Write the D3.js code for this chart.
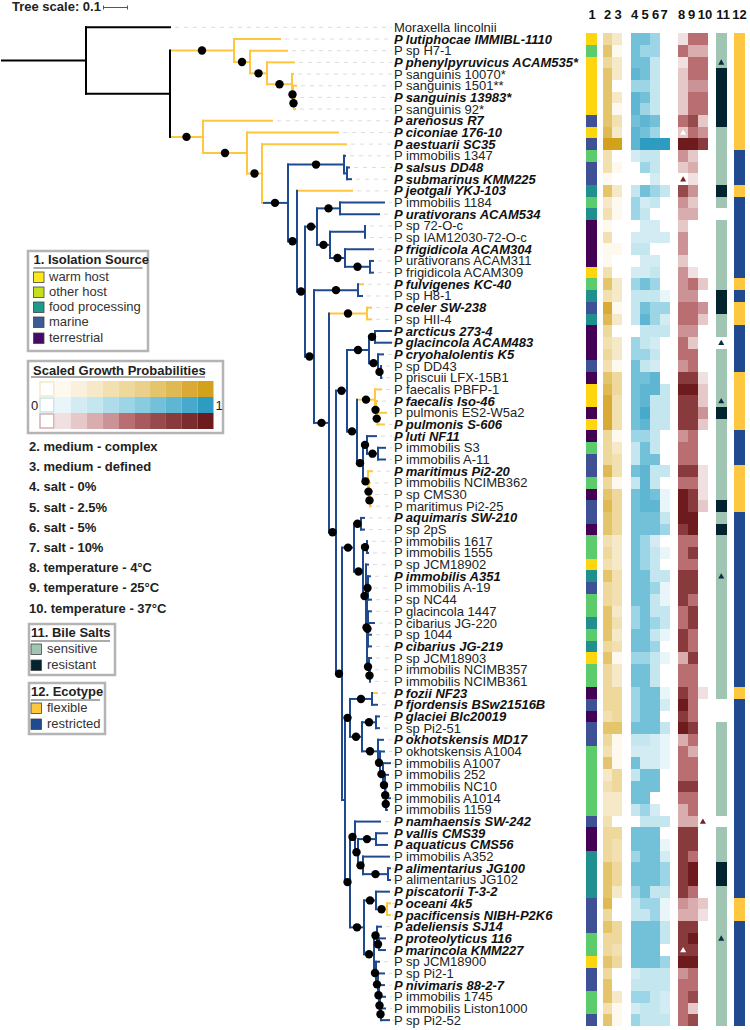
<!DOCTYPE html>
<html><head><meta charset="utf-8">
<script src="https://cdn.jsdelivr.net/npm/d3@7"></script>
<style>html,body{margin:0;padding:0;background:#fff}svg{display:block}text{font-family:"Liberation Sans",Arial,sans-serif}</style>
</head><body><div id="chart"></div>
<script>
// ---------- DATA ----------
const tipLabels = ["Moraxella lincolnii","P lutiphocae IMMIBL-1110","P sp H7-1","P phenylpyruvicus ACAM535*","P sanguinis 10070*","P sanguinis 1501**","P sanguinis 13983*","P sanguinis 92*","P arenosus R7","P ciconiae 176-10","P aestuarii SC35","P immobilis 1347","P salsus DD48","P submarinus KMM225","P jeotgali YKJ-103","P immobilis 1184","P urativorans ACAM534","P sp 72-O-c","P sp IAM12030-72-O-c","P frigidicola ACAM304","P urativorans ACAM311","P frigidicola ACAM309","P fulvigenes KC-40","P sp H8-1","P celer SW-238","P sp HII-4","P arcticus 273-4","P glacincola ACAM483","P cryohalolentis K5","P sp DD43","P priscuii LFX-15B1","P faecalis PBFP-1","P faecalis Iso-46","P pulmonis ES2-W5a2","P pulmonis S-606","P luti NF11","P immobilis S3","P immobilis A-11","P maritimus Pi2-20","P immobilis NCIMB362","P sp CMS30","P maritimus Pi2-25","P aquimaris SW-210","P sp 2pS","P immobilis 1617","P immobilis 1555","P sp JCM18902","P immobilis A351","P immobilis A-19","P sp NC44","P glacincola 1447","P cibarius JG-220","P sp 1044","P cibarius JG-219","P sp JCM18903","P immobilis NCIMB357","P immobilis NCIMB361","P fozii NF23","P fjordensis BSw21516B","P glaciei Blc20019","P sp Pi2-51","P okhotskensis MD17","P okhotskensis A1004","P immobilis A1007","P immobilis 252","P immobilis NC10","P immobilis A1014","P immobilis 1159","P namhaensis SW-242","P vallis CMS39","P aquaticus CMS56","P immobilis A352","P alimentarius JG100","P alimentarius JG102","P piscatorii T-3-2","P oceani 4k5","P pacificensis NIBH-P2K6","P adeliensis SJ14","P proteolyticus 116","P marincola KMM227","P sp JCM18900","P sp Pi2-1","P nivimaris 88-2-7","P immobilis 1745","P immobilis Liston1000","P sp Pi2-52"];
const typeStrains = new Set(["P lutiphocae IMMIBL-1110","P phenylpyruvicus ACAM535*","P sanguinis 13983*","P arenosus R7","P ciconiae 176-10","P aestuarii SC35","P salsus DD48","P submarinus KMM225","P jeotgali YKJ-103","P urativorans ACAM534","P frigidicola ACAM304","P fulvigenes KC-40","P celer SW-238","P arcticus 273-4","P glacincola ACAM483","P cryohalolentis K5","P faecalis Iso-46","P pulmonis S-606","P luti NF11","P maritimus Pi2-20","P aquimaris SW-210","P immobilis A351","P cibarius JG-219","P fozii NF23","P fjordensis BSw21516B","P glaciei Blc20019","P okhotskensis MD17","P namhaensis SW-242","P vallis CMS39","P aquaticus CMS56","P alimentarius JG100","P piscatorii T-3-2","P oceani 4k5","P pacificensis NIBH-P2K6","P adeliensis SJ14","P proteolyticus 116","P marincola KMM227","P nivimaris 88-2-7"]);

// Isolation source per heatmap row: W warm host, G other host, F food processing, M marine, T terrestrial
const isolation = "WGWWWWWMWMGMMFGFTTTTWGFMFTTTMTWWTWTGMMGTMMTGGWFMGGFGFWGGTMTMMGGGGGGMTTFFFFMMMGGWMMGGM".split("");
// Bile salts: S sensitive, R resistant, N no data
const bile = "SSSRRRRRSSSSSRSNSSSSSSRRSSNSSSSSRSSSSSSSRSRSSSSSSSSSSSSSSNNSSSSSSSSNSSSRRSSSSSSSSSSSS".split("");
// Ecotype: F flexible, R restricted
const ecotype = "FFFFFFFFFFRRRFRRRRRRRFRFFRRRRFFFFFRRRFFFFRRRRRRRRRRRRRRRFRRRRRRRRRRRRRRRRRFFRRRRRRRRR".split("");

const mediumComplex = [4,5,4,5,5,5,5,5,6,8, 3,3,1,5,2,3,1,3,1,1, 3,5,3,7,6,4,3,4,3,5, 6,7,7,7,4,4,4,6,4,5, 6,5,5,3,4,3,5,4,4,5, 5,5,4,5,4,4,4,4,3,5, 4,3,5,2,3,2,2,3,4,4, 4,5,5,5,6,4,5,4,4,5, 4,5,5,3,5];
const mediumDefined = [2,1,2,2,0,2,1,3,2,9, 0,1,0,2,1,1,0,0,1,0, 0,2,2,1,2,0,2,2,1,4, 4,3,3,3,1,2,3,3,1,4, 4,4,4,2,2,2,3,3,3,2, 3,2,3,1,2,2,4,4,4,5, 1,1,1,4,4,2,2,0,4,3, 3,4,4,2,0,0,4,4,3,4, 0,0,2,1,1];
const salt0 = [5,5,5,6,4,6,6,5,6,6, 2,0,0,3,4,4,0,2,3,0, 2,4,3,3,3,0,4,4,5,5, 5,5,5,5,4,3,3,5,3,5, 5,5,5,5,5,5,5,5,5,4, 4,5,5,4,5,5,4,4,4,5, 3,2,5,3,5,5,3,0,5,5, 4,5,5,4,3,3,5,5,5,5, 2,3,4,2,4];
const salt25 = [5,4,5,5,4,5,4,6,5,8, 3,4,0,5,2,3,2,2,3,2, 2,5,3,5,6,3,3,4,3,5, 6,6,7,6,4,5,5,6,6,6, 6,5,5,4,4,4,5,5,5,5, 5,5,5,4,5,5,5,5,5,5, 3,2,2,5,5,5,4,3,5,5, 5,5,5,5,4,3,5,5,5,5, 3,3,4,3,3];
const salt5 = [4,4,3,3,3,3,3,5,4,8, 3,3,2,4,3,0,2,2,0,2, 3,4,3,4,4,3,2,3,2,6, 6,3,3,3,3,3,5,3,3,5, 6,5,5,2,3,3,3,4,3,3, 4,3,4,3,3,3,5,5,5,5, 2,2,2,5,5,0,2,3,5,5, 5,5,5,3,4,4,5,5,5,5, 3,3,3,3,3];
const salt10 = [0,0,0,0,0,0,0,0,0,8, 0,0,0,3,0,0,0,2,0,0, 0,0,1,4,2,3,0,0,0,0, 3,3,3,3,0,0,0,3,0,1, 1,3,4,0,1,0,3,1,1,3, 3,1,0,1,0,0,1,2,0,3, 1,1,1,0,0,0,0,3,0,1, 2,4,4,3,1,1,3,3,0,4, 3,3,2,2,3];
const temp4 = [2,6,1,3,3,3,3,6,3,9, 5,3,0,7,5,4,3,5,5,3, 5,5,5,6,6,5,6,6,5,8, 9,8,8,8,5,6,6,8,6,9, 9,9,8,6,6,6,8,8,8,6, 6,8,8,4,6,6,8,9,8,9, 4,6,6,6,8,6,4,4,8,8, 8,8,8,8,5,4,8,8,8,9, 5,6,6,6,6];
const temp25 = [6,4,6,6,5,6,6,7,6,9, 3,4,2,5,3,4,0,0,0,0, 2,6,5,6,6,5,3,6,6,8, 9,8,8,8,6,6,6,8,6,8, 8,9,9,6,8,6,8,8,6,8, 8,6,6,8,6,6,6,6,6,8, 6,4,6,6,8,6,6,4,8,8, 6,9,9,6,4,4,8,9,8,9, 6,6,7,3,7];
const temp37 = [6,4,6,6,5,6,6,3,5,8, 0,0,0,0,0,0,0,0,0,0, 0,3,0,5,3,0,0,0,0,2, 3,3,5,3,0,0,0,1,1,1, 3,0,0,0,0,0,0,0,0,0, 0,0,0,0,0,0,1,0,0,0, 0,0,0,0,0,0,0,0,0,0, 0,0,0,0,3,2,0,0,0,0, 0,0,0,0,0];

// Triangle markers: [heatmap row (1-based), track number, colour]
const triangles = [[3,11,"#08303f"],[9,8,"#ffffff"],[13,8,"#7a2022"],[27,11,"#08303f"],[32,11,"#08303f"],[47,11,"#08303f"],[68,10,"#7a2022"],[78,11,"#08303f"],[79,8,"#ffffff"]];

// Ramps from the legend (0 = white .. 10 = darkest) and the read shade levels' place on them
const goldRamp = ["#ffffff","#fdf9ee","#f9f1dd","#f6e9c8","#f2e0b1","#eed89c","#ead08a","#e4c56c","#dfb954","#d9ab36","#d3a21c"];
const blueRamp = ["#ffffff","#e8f5f9","#d3ecf3","#c3e6ef","#afdcea","#9cd5e6","#8accdf","#73c1d9","#5fb6d3","#47a9cb","#2e9cc0"];
const redRamp  = ["#ffffff","#f0e0e1","#e6c8c9","#d9adae","#cb9395","#b96f72","#a95a5c","#974a4c","#883a3c","#7a2d2f","#6d1b1d"];
const goldStep = [0,1,3,4,5,7,8,9,10,10];
const blueStep = [0,1,2,3,5,7,8,9,10,10];
const redStep  = [0,1,1,2,3,4,5,7,8,10];

const trackTitles = ["1","2","3","4","5","6","7","8","9","10","11","12"];
const conditionNames = ["2. medium - complex","3. medium - defined","4. salt - 0%","5. salt - 2.5%","6. salt - 5%","7. salt - 10%","8. temperature - 4°C","9. temperature - 25°C","10. temperature - 37°C"];
const sourceNames = ["warm host","other host","food processing","marine","terrestrial"];
const bileNames = ["sensitive","resistant"];
const ecotypeNames = ["flexible","restricted"];

// Tree topology with tip order matching tipLabels. Node depth is in units of 1/240 substitutions per site.
// c: k black, o flexible, b restricted. s: 1 = supported branch.
const N = (d, c, s, ...children) => ({d, c, s, children});
const L = (d, c = "b") => ({d, c, s: 0});
const O = d => L(d, "o");
const treeData = N(86,"k",0,
  L(171,"k"),
  N(170,"k",0,
    N(234,"o",1, O(281),
      N(250,"o",1, O(288),
        N(267,"o",1, O(295),
          N(292,"o",1, O(294),
            N(293,"o",1, O(297),
              N(294,"o",1, O(296), O(296))))))),
    N(203,"o",1, O(273),
      N(247,"o",1, O(339),
        N(262,"o",1, O(347),
          N(288,"b",1,
            N(344,"b",1, L(346), N(347,"b",0, L(350), L(352))),
            N(297,"b",1, O(353),
              N(305,"b",1,
                N(317,"b",1,
                  N(340,"b",1, L(385), L(380)),
                  N(330,"b",1,
                    N(365,"b",0, L(366), L(366)),
                    N(345,"b",1, L(374), N(370,"b",1, L(374), L(374))))),
                N(314,"b",1,
                  N(358,"b",1, O(364), L(363)),
                  N(329,"b",1,
                    N(367,"o",1, O(372), O(372)),
                    N(336,"b",1,
                      N(347,"b",1,
                        N(369,"b",1,
                          N(375,"b",1, L(392), L(392)),
                          N(378,"b",1, L(384), N(381,"b",1, L(382), L(382.5)))),
                        N(357,"b",1,
                          N(375,"o",1, O(382), N(376,"o",1, O(378), N(377.5,"o",1, O(387), O(385)))),
                          N(363,"b",1,
                            N(367,"b",1, L(377), N(378,"b",1, L(386), L(386))),
                            N(368,"o",1, O(373), N(369,"o",1, O(371), N(370,"o",1, O(371), O(372))))))),
                      N(342,"b",1,
                        N(354,"b",1,
                          N(361,"b",1, L(365), L(365)),
                          N(363,"b",1,
                            N(367,"b",1, L(368), L(369)),
                            N(366,"b",1, L(369),
                              N(367,"b",1,
                                N(368,"b",1, L(371), L(370), L(372)),
                                N(368,"b",1, L(372), L(375), L(372), L(372)),
                                N(369,"b",1, L(372), N(370,"b",1, L(371), L(371))))))),
                        N(345,"b",0,
                          N(350,"b",1,
                            N(372,"b",1, O(378), L(378)),
                            N(362,"b",1,
                              N(376,"b",1, L(380), L(380)),
                              N(378,"b",1, L(384),
                                N(380,"b",1, L(385),
                                  N(383,"b",1, L(391),
                                    N(385,"b",1, L(389),
                                      N(385.5,"b",1, L(388),
                                        N(386,"b",1, L(391), L(388)))))))) ),
                          N(350,"b",1,
                            N(355,"b",1, L(381),
                              N(358,"b",1,
                                N(376,"b",1, L(388), L(388)),
                                N(363,"b",1, L(390), N(388,"b",1, L(391), L(391))))),
                            N(364,"b",1,
                              N(376,"b",1, L(390), N(387,"o",1, O(391), O(391))),
                              N(374,"b",1,
                                N(377,"b",1, L(382), N(379,"b",1, L(386), L(386))),
                                N(376,"b",1, L(380),
                                  N(378,"b",1, L(385),
                                    N(379,"b",1, L(385),
                                      N(380,"b",1, L(386),
                                        N(381,"b",1, L(386), L(390)))))))))))))))))))))
);

// ---------- DRAW ----------
const W = 750, H = 1030;
const svg = d3.select("#chart").append("svg").attr("width", W).attr("height", H);
const branchColor = {k:"#000000", o:"#ffc640", b:"#1f4a8f"};
const sourceColor = {W:"#fdd60f", G:"#5bcb6b", F:"#218f8d", M:"#3f5195", T:"#440255"};
const bileColor = {S:"#a0c5b2", R:"#03232f", N:"#ffffff"};
const ecoColor = {F:"#ffc640", R:"#1f4a8f"};

const rowY = d3.scaleBand().domain(tipLabels).range([21.5, 21.5 + 86 * 11.68]);
const yc = name => rowY(name) + rowY.bandwidth() / 2;
const treeX = d3.scaleLinear().domain([0, 400]).range([0, 400]);

// tree layout
const root = d3.hierarchy(treeData);
root.leaves().forEach((leaf, i) => { leaf.label = tipLabels[i]; leaf.y = yc(leaf.label); });
root.eachAfter(n => { if (n.children) n.y = (n.children[0].y + n.children[n.children.length - 1].y) / 2; });

const gTree = svg.append("g");
// leader lines
gTree.selectAll("line.lead").data(root.leaves()).join("line")
  .attr("x1", d => treeX(d.data.d) + 4).attr("x2", 392)
  .attr("y1", d => d.y).attr("y2", d => d.y)
  .attr("stroke", "#dcdcdc").attr("stroke-width", 1).attr("stroke-dasharray", "4 5");
// horizontal branches
const nodes = root.descendants();
gTree.selectAll("line.h").data(nodes).join("line")
  .attr("x1", d => d.parent ? treeX(d.parent.data.d) - 1 : treeX(1)).attr("x2", d => treeX(d.data.d))
  .attr("y1", d => d.y).attr("y2", d => d.y)
  .attr("stroke", d => branchColor[d.data.c]).attr("stroke-width", 2);
// vertical branches
gTree.selectAll("line.v").data(nodes.filter(d => d.children)).join("line")
  .attr("x1", d => treeX(d.data.d)).attr("x2", d => treeX(d.data.d))
  .attr("y1", d => d.children[0].y - 1).attr("y2", d => d.children[d.children.length - 1].y + 1)
  .attr("stroke", d => branchColor[d.data.c]).attr("stroke-width", 2);
// support dots
gTree.selectAll("circle").data(nodes.filter(d => d.data.s && d.parent)).join("circle")
  .attr("cx", d => (treeX(d.parent.data.d) + treeX(d.data.d)) / 2).attr("cy", d => d.y)
  .attr("r", 4.2).attr("fill", "#000");

// tip labels
svg.append("g").selectAll("text").data(tipLabels).join("text")
  .attr("x", 394).attr("y", d => yc(d) + 4.5)
  .attr("font-size", 13).attr("fill", d => typeStrains.has(d) ? "#111" : "#222")
  .attr("font-weight", d => typeStrains.has(d) ? "bold" : "normal")
  .attr("font-style", d => typeStrains.has(d) ? "italic" : "normal")
  .text(d => d);

// heat tracks
const heatRows = tipLabels.slice(1);
const trackX = {1:[586,596.5],2:[602.5,612],3:[612,622],4:[630.5,640.3],5:[640.3,650],6:[650,659.8],7:[659.8,670],8:[678.3,688],9:[688,697.8],10:[697.8,708],11:[716,726.5],12:[734,745]};
const level = (ramp, step) => v => ramp[step[v]];
const tracks = [
  [1, isolation, v => sourceColor[v]],
  [2, mediumComplex, level(goldRamp, goldStep)],
  [3, mediumDefined, level(goldRamp, goldStep)],
  [4, salt0, level(blueRamp, blueStep)],
  [5, salt25, level(blueRamp, blueStep)],
  [6, salt5, level(blueRamp, blueStep)],
  [7, salt10, level(blueRamp, blueStep)],
  [8, temp4, level(redRamp, redStep)],
  [9, temp25, level(redRamp, redStep)],
  [10, temp37, level(redRamp, redStep)],
  [11, bile, v => bileColor[v]],
  [12, ecotype, v => ecoColor[v]]
];
tracks.forEach(([id, values, color]) => {
  const [x0, x1] = trackX[id];
  svg.append("g").attr("shape-rendering", "crispEdges").selectAll("rect").data(values).join("rect")
    .attr("x", x0).attr("width", x1 - x0)
    .attr("y", (d, i) => rowY(heatRows[i]))
    .attr("height", rowY.bandwidth() + 0.3)
    .attr("fill", d => color(d));
});
svg.append("g").selectAll("path").data(triangles).join("path")
  .attr("d", d3.symbol(d3.symbolTriangle, 16))
  .attr("transform", d => `translate(${(trackX[d[1]][0] + trackX[d[1]][1]) / 2},${yc(heatRows[d[0] - 1]) + 0.5})`)
  .attr("fill", d => d[2]);

// column headers
const headerX = {1:592,2:607.5,3:618,4:634.5,5:645,6:655.5,7:664,8:681.5,9:691.5,10:705,11:723,12:739.5};
svg.append("g").selectAll("text").data(trackTitles).join("text")
  .attr("x", d => headerX[d]).attr("y", 18.5).attr("text-anchor", "middle")
  .attr("font-size", 13).attr("font-weight", "bold").attr("fill", "#111").text(d => d);

// tree scale
svg.append("text").attr("x", 12).attr("y", 11).attr("font-size", 13).attr("font-weight", "bold").attr("fill", "#222").text("Tree scale: 0.1");
const sg = svg.append("g").attr("stroke", "#555").attr("stroke-width", 1);
const barLen = treeX(24) - treeX(0);
sg.append("line").attr("x1", 103.5).attr("x2", 103.5 + barLen).attr("y1", 7.5).attr("y2", 7.5);
[103.5, 103.5 + barLen].forEach(x => sg.append("line").attr("x1", x).attr("x2", x).attr("y1", 5.5).attr("y2", 9.5));

// legends
function box(x, y, w, h) {
  svg.append("rect").attr("x", x + 1).attr("y", y + 1).attr("width", w - 2).attr("height", h - 2)
    .attr("fill", "#fff").attr("stroke", "#b4b4b4").attr("stroke-width", 2.5);
}
function legendBlock(x, y, w, h, title, titleW, names, colors, rowTops, textX, swatchX, sw) {
  box(x, y, w, h);
  svg.append("text").attr("x", swatchX).attr("y", y + 14).attr("font-size", 13).attr("font-weight", "bold").attr("fill", "#222").text(title);
  svg.append("line").attr("x1", swatchX).attr("x2", swatchX + titleW).attr("y1", y + 18).attr("y2", y + 18).attr("stroke", "#555").attr("stroke-width", 1);
  const g = svg.append("g");
  g.selectAll("rect").data(names).join("rect")
    .attr("x", swatchX).attr("y", (d, i) => rowTops[i]).attr("width", sw).attr("height", sw)
    .attr("fill", (d, i) => colors[i]).attr("stroke", "#444").attr("stroke-width", 0.8);
  g.selectAll("text").data(names).join("text")
    .attr("x", textX).attr("y", (d, i) => rowTops[i] + 8.5).attr("font-size", 13).attr("fill", "#333").text(d => d);
}
legendBlock(27, 250, 122, 102, "1. Isolation Source", 109, sourceNames,
  ["#ffe81a","#c5e01d","#1d9a8a","#3a5b95","#440a68"], [272,287,302,317,333], 49, 33.5, 10.5);
legendBlock(28, 623, 88, 53, "11. Bile Salts", 79, bileNames, ["#a0c5b2","#03232f"], [644,660], 47, 31, 10.5);
legendBlock(28, 682, 78, 53, "12. Ecotype", 69, ecotypeNames, ["#ffc640","#1f4a8f"], [703,719], 47, 31, 10.5);

// gradient legend
box(27, 360, 197, 74);
svg.append("text").attr("x", 33).attr("y", 375).attr("font-size", 13).attr("font-weight", "bold").attr("fill", "#222").text("Scaled Growth Probabilities");
svg.append("line").attr("x1", 31).attr("x2", 205).attr("y1", 377).attr("y2", 377).attr("stroke", "#555").attr("stroke-width", 1);
const cellX = d3.scaleBand().domain(d3.range(11)).range([39, 213.5]);
[goldRamp, blueRamp, redRamp].forEach((ramp, r) => {
  const top = 381 + r * 16;
  svg.append("g").selectAll("rect").data(ramp).join("rect")
    .attr("x", (d, i) => cellX(i)).attr("y", top).attr("width", cellX.bandwidth()).attr("height", 16).attr("fill", d => d);
  svg.append("rect").attr("x", cellX(0) + 1).attr("y", top + 1).attr("width", cellX.bandwidth() - 2).attr("height", 14)
    .attr("fill", "#fff").attr("stroke", ramp[3]).attr("stroke-width", 1.5);
});
svg.append("text").attr("x", 34.5).attr("y", 410).attr("text-anchor", "middle").attr("font-size", 13).attr("fill", "#222").text("0");
svg.append("text").attr("x", 219).attr("y", 410).attr("text-anchor", "middle").attr("font-size", 13).attr("fill", "#222").text("1");

// condition list
svg.append("g").selectAll("text").data(conditionNames).join("text")
  .attr("x", 29).attr("y", (d, i) => 451 + i * 20.2)
  .attr("font-size", 13).attr("font-weight", "bold").attr("fill", "#222").text(d => d);
</script>
</body></html>
